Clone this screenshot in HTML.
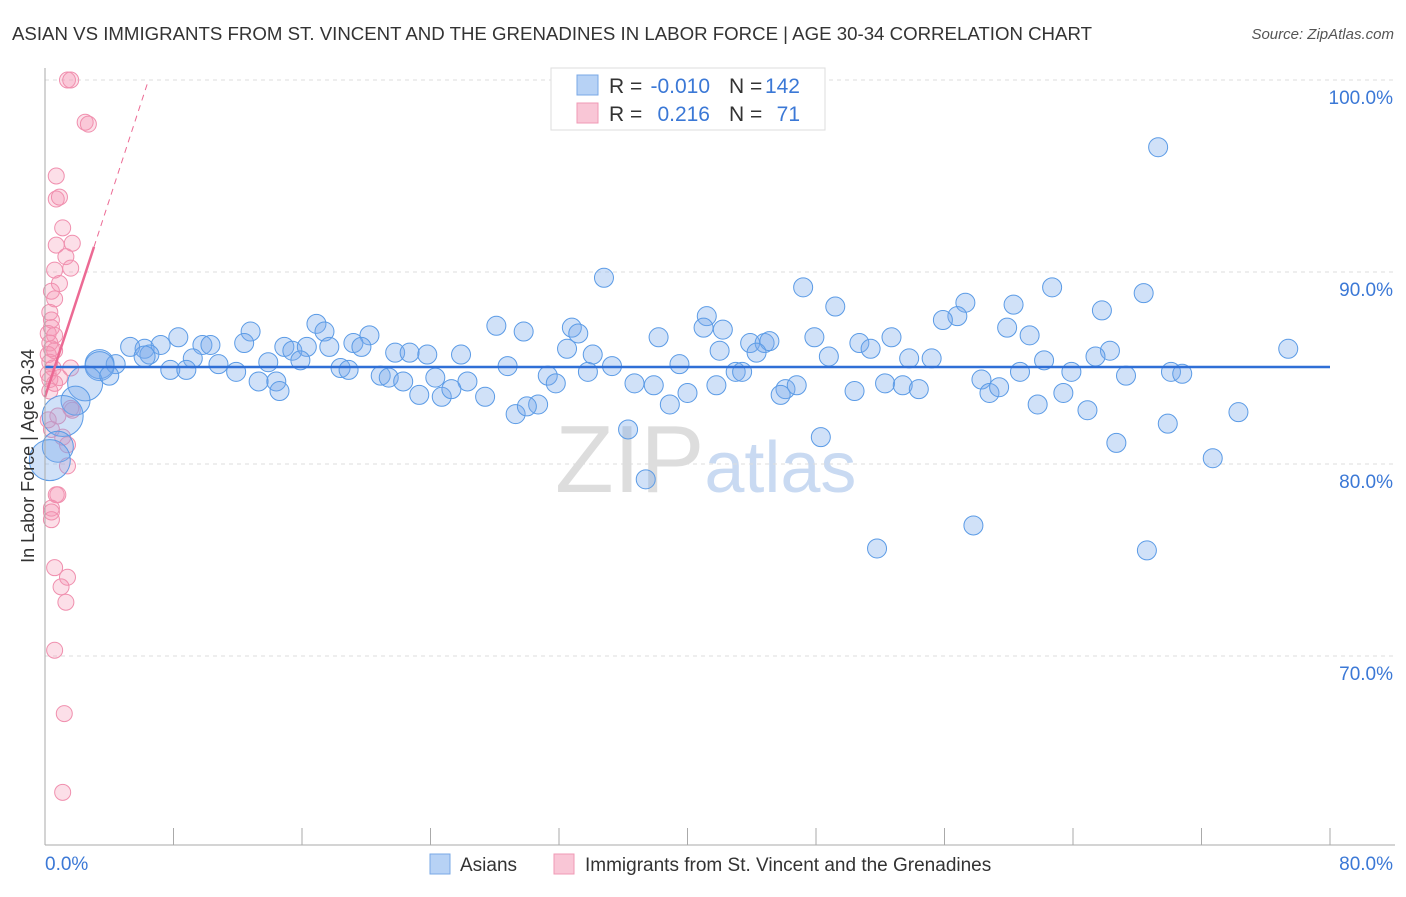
<!DOCTYPE html>
<html><head><meta charset="utf-8"><style>
body{margin:0;background:#fff;font-family:"Liberation Sans",sans-serif}
svg text{font-family:"Liberation Sans",sans-serif}
</style></head><body>
<svg id="chart" width="1406" height="892" xmlns="http://www.w3.org/2000/svg">
<text x="12" y="40" font-size="18" fill="#333" textLength="1080" lengthAdjust="spacingAndGlyphs">ASIAN VS IMMIGRANTS FROM ST. VINCENT AND THE GRENADINES IN LABOR FORCE | AGE 30-34 CORRELATION CHART</text>
<text x="1394" y="39" font-size="15" fill="#555" text-anchor="end" font-style="italic">Source: ZipAtlas.com</text>
<text x="555" y="492" font-size="96" fill="#ddd" font-family="Liberation Serif">ZIP<tspan fill="#c9daf2" font-family="Liberation Sans" font-size="72">atlas</tspan></text>
<g id="grid"></g><g id="pinkpts"></g><g id="bluepts"></g><g id="lines"></g><g id="axes"></g>
<text transform="translate(34,456) rotate(-90)" font-size="18" fill="#333" text-anchor="middle">In Labor Force | Age 30-34</text>
<g font-size="21">
<rect x="551" y="68" width="274" height="62" fill="#fff" stroke="#ddd"/>
<rect x="577" y="75" width="21" height="20" fill="#b7d2f5" stroke="#7aa8e6"/>
<rect x="577" y="103" width="21" height="20" fill="#f9c6d6" stroke="#f09ab5"/>
<text x="609" y="93" fill="#333">R =</text>
<text x="710" y="93" fill="#3b78d6" text-anchor="end">-0.010</text>
<text x="729" y="93" fill="#333">N =</text>
<text x="800" y="93" fill="#3b78d6" text-anchor="end">142</text>
<text x="609" y="121" fill="#333">R =</text>
<text x="710" y="121" fill="#3b78d6" text-anchor="end">0.216</text>
<text x="729" y="121" fill="#333">N =</text>
<text x="800" y="121" fill="#3b78d6" text-anchor="end">71</text>
</g>
<g>
<rect x="430" y="854" width="20" height="20" fill="#b7d2f5" stroke="#7aa8e6"/>
<text x="460" y="871" font-size="19" fill="#333">Asians</text>
<rect x="554" y="854" width="20" height="20" fill="#f9c6d6" stroke="#f09ab5"/>
<text x="585" y="871" font-size="19" fill="#333">Immigrants from St. Vincent and the Grenadines</text>
</g>
</svg>
<script>
const yTicks=[100,90,80,70];
const xTickLabels=["0.0%","80.0%"];
const blueX=[69.3,34.8,47.2,62.7,68.4,57.3,49.2,60.3,65.8,56.8,41.2,55.9,41,16.9,28.1,17.4,32.8,42.2,59.9,8.3,12.8,29.8,33.2,61.3,38.2,47.9,52.7,20.2,5.3,6.2,7.2,9.8,10.3,12.4,14.9,19.2,19.7,15.4,16.3,17.7,21.8,22.7,23.8,25.9,32.5,34.1,42,50.7,77.4,66.3,65.4,43.9,44.8,45.1,44.3,48.8,51.4,53.8,55.2,62.2,3.4,4.4,6.5,9.2,10.8,13.9,15.9,18.4,18.9,20.9,21.4,22.3,7.8,8.8,11.9,13.3,14.4,24.3,26.3,28.8,31.3,31.8,33.8,35.3,36.7,37.9,39.5,41.8,43,43.4,46.1,46.8,45.8,50.4,52.3,53.4,54.4,58.3,58.8,59.4,60.7,63.9,67.3,70.1,70.8,63.4,61.8,64.9,23.3,24.7,25.3,27.4,30.7,29.3,38.9,40,36.3,48.3,66.7,69.9,74.3,72.7,37.4,57.8,51.8,68.6,3.4,2.5,1.9,1.1,0.8,0.3,6.2,4,14.6,30];
const blueY=[96.5,89.7,89.2,89.2,88.9,88.4,88.2,88.3,88,87.7,87.7,87.5,87.1,87.3,87.2,86.9,87.1,87,87.1,86.6,86.9,86.9,86.8,86.7,86.6,86.6,86.6,86.7,86.1,86,86.2,86.2,86.2,86.3,86.1,86.3,86.1,85.9,86.1,86.1,85.8,85.8,85.7,85.7,86,85.7,85.9,86.3,86,85.9,85.6,86.3,86.3,86.4,85.8,85.6,86,85.5,85.5,85.4,85.2,85.2,85.7,85.5,85.2,85.3,85.4,85,84.9,84.6,84.5,84.3,84.9,84.9,84.8,84.3,84.3,84.5,84.3,85.1,84.6,84.2,84.8,85.1,84.2,84.1,85.2,84.1,84.8,84.8,83.9,84.1,83.6,83.8,84.2,84.1,83.9,84.4,83.7,84,84.8,84.8,84.6,84.8,84.7,83.7,83.1,82.8,83.6,83.5,83.9,83.5,83.1,82.6,83.1,83.7,81.8,81.4,81.1,82.1,82.7,80.3,79.2,76.8,75.6,75.5,85.1,84.2,83.3,82.5,80.9,80.2,85.6,84.6,83.8,83];
const blueR=[9,9,9,9,9,9,9,9,9,9,9,9,9,9,9,9,9,9,9,9,9,9,9,9,9,9,9,9,9,9,9,9,9,9,9,9,9,9,9,9,9,9,9,9,9,9,9,9,9,9,9,9,9,9,9,9,9,9,9,9,14,9,9,9,9,9,9,9,9,9,9,9,9,9,9,9,9,9,9,9,9,9,9,9,9,9,9,9,9,9,9,9,9,9,9,9,9,9,9,9,9,9,9,9,9,9,9,9,9,9,9,9,9,9,9,9,9,9,9,9,9,9,9,9,9,9,14,17,14,20,15,20,10,9,9,9];
const pinkX=[1.4,1.6,2.5,2.7,0.7,0.7,0.9,1.1,0.7,1.7,1.3,0.6,1.6,0.9,0.4,0.6,0.3,0.4,0.4,0.2,0.6,0.3,0.4,0.2,0.6,0.3,0.5,0.2,0.9,0.3,0.6,1.6,1.6,1.7,0.4,1.1,1.4,1.4,0.7,0.8,0.4,0.4,0.4,0.6,1.4,1,1.3,0.6,1.2,1.1,0.3,0.8,0.2];
const pinkY=[100,100,97.8,97.7,95,93.8,93.9,92.3,91.4,91.5,90.8,90.1,90.2,89.4,89,88.6,87.9,87.5,87.1,86.8,86.7,86.3,86,85.7,85.9,85.3,85,84.7,84.5,84.4,84.2,85,82.9,82.8,81.8,81.4,81,79.9,78.4,78.4,77.7,77.5,77.1,74.6,74.1,73.6,72.8,70.3,67,62.9,83.8,82.5,82.3];
const blueTrend=[85.05,85.05];
const pinkTrend=[83.5,2.56];
const X0=45,X1=1330,Y100=80,PX=(X1-X0)/80,PY=19.2;
const sx=v=>X0+v*PX, sy=v=>Y100+(100-v)*PY;
const NS="http://www.w3.org/2000/svg";
function mk(t,a,p){const e=document.createElementNS(NS,t);for(const k in a)e.setAttribute(k,a[k]);p.appendChild(e);return e;}
const grid=document.getElementById('grid');
yTicks.forEach(t=>{
 const l=mk('line',{x1:X0,x2:1395,y1:sy(t),y2:sy(t),stroke:'#ddd','stroke-dasharray':'4,4'},grid);
 
 
 const tx=mk('text',{x:1393,y:sy(t)+24,'font-size':19,fill:'#3b78d6','text-anchor':'end'},grid);
 tx.textContent=t.toFixed(1)+'%';
 
 
});
const axes=document.getElementById('axes');
mk('line',{x1:X0,x2:X0,y1:68,y2:845,stroke:'#aaa'},axes);
mk('line',{x1:X0,x2:1395,y1:845,y2:845,stroke:'#aaa'},axes);
for(let i=0;i<=10;i++){const x=sx(i*8);const t=mk('line',{x1:x,x2:x,y1:828,y2:845,stroke:'#aaa'},axes);
 
 }
const xl0=mk('text',{x:45,y:870,'font-size':19,fill:'#3b78d6'},axes);xl0.textContent=xTickLabels[0];


const xl1=mk('text',{x:1393,y:870,'font-size':19,fill:'#3b78d6','text-anchor':'end'},axes);xl1.textContent=xTickLabels[1];


const pg=document.getElementById('pinkpts');
pinkX.forEach((x,i)=>{const c=mk('circle',{cx:sx(x),cy:sy(pinkY[i]),r:8,fill:'rgba(244,150,180,0.3)',stroke:'#f08fae','stroke-width':1},pg);
 
 });
const bg=document.getElementById('bluepts');
blueX.forEach((x,i)=>{const c=mk('circle',{cx:sx(x),cy:sy(blueY[i]),r:blueR[i]+0.5,fill:'rgba(120,170,235,0.35)',stroke:'#5b9be6','stroke-width':1},bg);
 
 });
const lg=document.getElementById('lines');
const bl=mk('line',{x1:sx(0),x2:sx(80),y1:sy(blueTrend[0]),y2:sy(blueTrend[1]),stroke:'#2f6fd6','stroke-width':2.5},lg);


const pf=v=>pinkTrend[0]+pinkTrend[1]*v;
const ps=mk('line',{x1:sx(0),x2:sx(3.05),y1:sy(pf(0)),y2:sy(pf(3.05)),stroke:'#ec6a94','stroke-width':2.5},lg);


const xe=(100-pinkTrend[0])/pinkTrend[1];
const pd=mk('line',{x1:sx(3.05),x2:sx(xe),y1:sy(pf(3.05)),y2:sy(100),stroke:'#ec6a94','stroke-width':1,'stroke-dasharray':'6,5'},lg);


</script>
</body></html>
